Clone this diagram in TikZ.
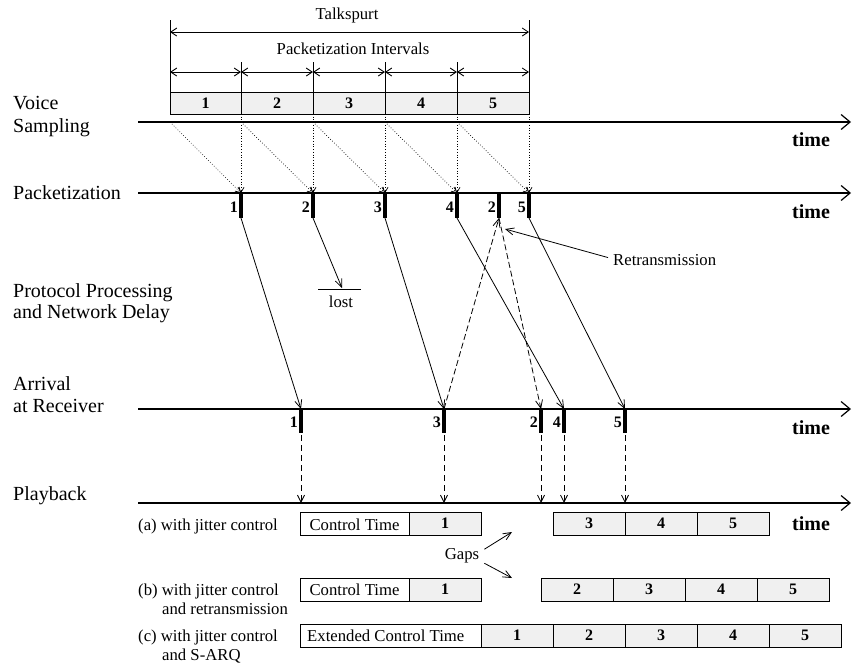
\documentclass[tikz,border=0pt]{standalone}
\usepackage{fontspec}
\setmainfont{Liberation Serif}
\usetikzlibrary{arrows.meta,calc}
\begin{document}
\begin{tikzpicture}[x=1pt,y=-1pt,
  axis/.style={line width=1.8pt,-{Straight Barb[length=9pt,width=15pt,line width=1.2pt]}},
  dim/.style={line width=0.9pt,{Straight Barb[length=6pt,width=8pt]}-{Straight Barb[length=6pt,width=8pt]}},
  guide/.style={line width=0.6pt},
  cell/.style={draw,line width=0.8pt,fill=gray!12},
  wcell/.style={draw,line width=0.8pt,fill=white},
  lbl/.style={font=\fontsize{20}{24}\selectfont,anchor=base west,inner sep=0pt},
  small/.style={font=\fontsize{16.7}{19}\selectfont,inner sep=0pt},
  num/.style={font=\fontsize{16}{19}\selectfont\bfseries,inner sep=0pt},
  timel/.style={font=\fontsize{20}{24}\selectfont\bfseries,anchor=base,inner sep=0pt},
  dotarr/.style={line width=0.7pt,dotted,-{Straight Barb[length=5pt,width=6pt]}},
  pkt/.style={line width=3.5pt},
  flow/.style={line width=0.8pt,-{Straight Barb[length=8pt,width=7pt]}},
  dflow/.style={line width=0.8pt,dash pattern=on 6pt off 3pt,-{Straight Barb[length=8pt,width=7pt]}},
  play/.style={line width=0.8pt,dash pattern=on 6pt off 4pt,-{Straight Barb[length=7pt,width=7pt]}}
]
\useasboundingbox (0,0) rectangle (852,665);

% ---------- top dimensions ----------
\node[small,anchor=base] (talk) at (347,19) {Talkspurt};
\node[small,anchor=base] (pint) at (353,54) {Packetization Intervals};
\foreach \i/\x in {0/170,1/241,2/313,3/385,4/457,5/529} {
  \coordinate (b\i) at (\x,92);
  \coordinate (d\i) at (\x,72);
  \coordinate (g\i) at (\x,62);
}
\coordinate (tl) at (170,32); \coordinate (tr) at (529,32);
\coordinate (tlt) at (170,20); \coordinate (trt) at (529,20);
\draw[guide] (tlt) -- (b0);
\draw[guide] (trt) -- (b5);
\foreach \i in {1,2,3,4} \draw[guide] (g\i) -- (b\i);
\draw[dim] (tl) -- (tr);
\foreach \i/\j in {0/1,1/2,2/3,3/4,4/5} \draw[dim] (d\i) -- (d\j);

% voice boxes
\foreach \i/\j/\n in {0/1/1,1/2/2,2/3/3,3/4/4,4/5/5} {
  \draw[cell] (b\i) rectangle ($(b\j)+(0,22)$);
  \node[num] (v\n) at ($(b\i)!0.5!(b\j)+(0,11)$) {\n};
}

% ---------- axes ----------
\node[lbl] (lv1) at (13,109) {Voice};
\node[lbl] (lv2) at (13,132) {Sampling};
\coordinate (ax1s) at (138,122); \coordinate (ax1e) at (851,122);
\draw[axis] (ax1s) -- (ax1e);
\node[timel] (t1) at (811,146) {time};

\node[lbl] (lp) at (13,199) {Packetization};
\coordinate (ax2s) at (138,193); \coordinate (ax2e) at (851,193);
\draw[axis] (ax2s) -- (ax2e);
\node[timel] (t2) at (811,218) {time};

\node[lbl] (lpp1) at (13,297) {Protocol Processing};
\node[lbl] (lpp2) at (13,318) {and Network Delay};

\node[lbl] (la1) at (13,390) {Arrival};
\node[lbl] (la2) at (13,412) {at Receiver};
\coordinate (ax3s) at (138,409); \coordinate (ax3e) at (851,409);
\draw[axis] (ax3s) -- (ax3e);
\node[timel] (t3) at (811,434) {time};

\node[lbl] (lpb) at (13,500) {Playback};
\coordinate (ax4s) at (138,503); \coordinate (ax4e) at (851,503);
\draw[axis] (ax4s) -- (ax4e);
\node[timel] (t4) at (811,530) {time};

% ---------- sampling -> packetization (dotted) ----------
\foreach \i/\j/\x/\xx in {0/1/170/241,1/2/241/313,2/3/313/385,3/4/385/457,4/5/457/529} {
  \coordinate (s\i) at (\x,122);
  \coordinate (p\j) at (\xx,193);
  \coordinate (sv\j) at (\xx,114);
  \draw[dotarr] (s\i) -- (p\j);
  \draw[dotarr] (sv\j) -- (p\j);
}

% packet bars
\foreach \n/\x in {1/241,2/313,3/385,4/457,r/499,5/529} {
  \coordinate (pt\n) at (\x,193);
  \coordinate (pb\n) at (\x,218);
  \draw[pkt] (pt\n) -- (pb\n);
}
\foreach \n/\t in {1/1,2/2,3/3,4/4,r/2,5/5}
  \node[num,anchor=base east] (pl\n) at ($(pb\n)+(-3,-6)$) {\t};

% arrival bars
\foreach \n/\x in {1/301,3/444,r/541,4/564,5/625} {
  \coordinate (at\n) at (\x,409);
  \coordinate (ab\n) at (\x,433);
  \draw[pkt] (at\n) -- (ab\n);
}
\foreach \n/\t in {1/1,3/3,r/2,4/4,5/5}
  \node[num,anchor=base east] (al\n) at ($(ab\n)+(-3,-6)$) {\t};

% transport arrows
\draw[flow] (pb1) -- (at1);
\draw[flow] (pb3) -- (at3);
\draw[flow] (pb4) -- (at4);
\draw[flow] (pb5) -- (at5);
\coordinate (lostp) at (342,288);
\draw[flow] (pb2) -- (lostp);
\coordinate (lostl) at (318,289); \coordinate (lostr) at (361,289);
\draw[line width=0.8pt] (lostl) -- (lostr);
\node[small,anchor=base] (lost) at (341,307) {lost};

% retransmission
\draw[dflow] (at3) -- (pbr);
\draw[dflow] (pbr) -- (atr);
\node[small,anchor=base west] (retx) at (613,265) {Retransmission};
\coordinate (retxp) at (505,229);
\draw[flow] ([xshift=-5pt,yshift=2pt]retx.west) -- (retxp);

% arrival -> playback
\foreach \n in {1,3,r,4,5} {
  \draw[play] ([yshift=-2pt]ab\n) -- (ab\n |- ax4s);
}

% ---------- playback rows ----------
\node[small,anchor=base west] (ra) at (138,530) {(a) with jitter control};
\draw[wcell] (300,512) rectangle (409,535);
\node[small,anchor=base] (ract) at (354.5,530) {Control Time};
\draw[cell] (409,512) rectangle (481,535);
\node[num] (ra1) at (445,523.5) {1};
\foreach \n/\x in {3/553,4/625,5/697} {
  \draw[cell] (\x,512) rectangle (\x+72,535);
  \node[num] (ra\n) at (\x+36,523.5) {\n};
}

\node[small,anchor=base] (gaps) at (462,559) {Gaps};
\coordinate (gp1) at (512,532); \coordinate (gp2) at (512,578);
\draw[flow] ([xshift=5pt,yshift=6pt]gaps.east) -- (gp1);
\draw[flow] ([xshift=5pt,yshift=-8pt]gaps.east) -- (gp2);

\node[small,anchor=base west] (rb1) at (138,595) {(b) with jitter control};
\node[small,anchor=base west] (rb2) at (162,614) {and retransmission};
\draw[wcell] (300,578) rectangle (409,601);
\node[small,anchor=base] (rbct) at (354.5,595.5) {Control Time};
\draw[cell] (409,578) rectangle (481,601);
\node[num] (rb1n) at (445,589.5) {1};
\foreach \n/\x in {2/541,3/613,4/685,5/757} {
  \draw[cell] (\x,578) rectangle (\x+72,601);
  \node[num] (rb\n n) at (\x+36,589.5) {\n};
}

\node[small,anchor=base west] (rc1) at (138,641) {(c) with jitter control};
\node[small,anchor=base west] (rc2) at (162,660) {and S-ARQ};
\draw[wcell] (300,624) rectangle (481,647);
\node[small,anchor=base west] (rcct) at (307,641) {Extended Control Time};
\foreach \n/\x in {1/481,2/553,3/625,4/697,5/769} {
  \draw[cell] (\x,624) rectangle (\x+72,647);
  \node[num] (rc\n n) at (\x+36,635.5) {\n};
}
\end{tikzpicture}
\end{document}
